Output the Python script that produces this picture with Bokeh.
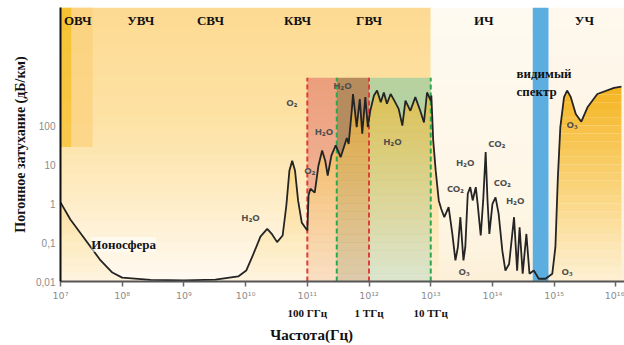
import numpy as np
from bokeh.plotting import figure
from bokeh.models import (Range1d, FixedTicker, LogAxis, CustomJSTickFormatter,
                          Label, ColumnDataSource)
from bokeh.core.properties import value
from bokeh.embed import file_html
from bokeh.resources import INLINE

# ---------------- data (log10 of Hz and of dB/km) -------------
log10_freq_hz = [
    7.00, 7.16, 7.37, 7.65, 7.84, 8.00, 8.46, 9.00, 9.51, 9.88,
    10.01, 10.13, 10.24, 10.35, 10.42, 10.51, 10.60, 10.66, 10.71, 10.755,
    10.80, 10.85, 10.91, 11.00, 11.02, 11.05, 11.12, 11.18, 11.24, 11.29,
    11.33, 11.39, 11.46, 11.54, 11.64, 11.67, 11.72, 11.74, 11.80, 11.85,
    11.89, 11.94, 11.98, 12.02, 12.08, 12.13, 12.19, 12.24, 12.29, 12.35,
    12.41, 12.48, 12.54, 12.59, 12.67, 12.75, 12.83, 12.89, 12.94, 13.00,
    13.01, 13.04, 13.08, 13.13, 13.17, 13.22, 13.29, 13.35, 13.40, 13.44,
    13.48, 13.53, 13.56, 13.60, 13.64, 13.68, 13.73, 13.76, 13.81, 13.85,
    13.89, 13.92, 13.95, 14.00, 14.05, 14.10, 14.16, 14.21, 14.27, 14.35,
    14.40, 14.44, 14.49, 14.55, 14.60, 14.67, 14.75, 14.86, 14.97, 15.02,
    15.06, 15.10, 15.16, 15.21, 15.27, 15.35, 15.44, 15.54, 15.70, 15.97,
    16.09,
]
log10_atten_db_km = [
    0.03, -0.41, -0.86, -1.46, -1.77, -1.90, -1.96, -1.97, -1.95, -1.87,
    -1.72, -1.28, -0.85, -0.65, -0.77, -0.99, -0.82, -0.05, 0.85, 1.10,
    0.85, 0.08, -0.49, -0.69, 0.21, 0.38, 0.28, 0.97, 1.36, 1.10,
    0.72, 1.23, 1.49, 1.19, 1.68, 1.53, 2.38, 2.81, 1.96, 2.68,
    1.79, 2.73, 1.96, 2.38, 2.77, 2.90, 2.60, 2.85, 2.56, 2.81,
    2.64, 2.43, 2.00, 2.64, 2.38, 2.73, 2.38, 2.08, 2.85, 2.64,
    2.77, 1.62, 0.85, 0.08, -0.14, -0.35, -0.09, -0.78, -1.46, -1.12,
    -0.35, -1.46, -1.12, 0.25, 0.42, 0.08, 0.42, -0.01, -0.82, 0.08,
    1.32, 0.08, -0.78, -0.01, 0.16, -0.26, -1.21, -1.72, -1.55, -0.35,
    -1.72, -0.61, -1.80, -0.78, -1.80, -1.72, -1.93, -1.93, -1.80, -1.12,
    0.67, 1.96, 2.73, 2.90, 2.73, 2.30, 2.10, 2.47, 2.81, 2.97,
    3.00,
]

band_names = ["ОВЧ", "УВЧ", "СВЧ", "КВЧ", "ГВЧ", "ИЧ", "УЧ"]
band_name_log10_freq = [7.28, 8.30, 9.43, 10.84, 12.0, 13.86, 15.49]

window_edges_hz = [1e11, 3e11, 1e12, 1e13]
window_edge_colors = ["#e23a3a", "#2aa84e", "#e23a3a", "#2aa84e"]
window_top_db_km = 1700
visible_hz = [4.5e14, 8.1e14]

x_ticks_hz = [1e7, 1e8, 1e9, 1e10, 1e11, 1e12, 1e13, 1e14, 1e15, 1e16]
y_ticks_db_km = [0.01, 0.1, 1, 10, 100]
freq_marks_hz = [1e11, 1e12, 1e13]
freq_mark_labels = ["100 ГГц", "1 ТГц", "10 ТГц"]
x_title = "Частота(Гц)"
y_title = "Погонное затухание (дБ/км)"

molecule_labels = ["O₂", "H₂O", "O₂", "H₂O", "H₂O", "H₂O", "CO₂", "H₂O",
                   "CO₂", "CO₂", "H₂O", "O₃", "O₃", "O₃"]
molecule_log10_freq = [10.75, 10.08, 11.04, 11.27, 11.57, 12.38, 13.40, 13.56,
                       14.07, 14.16, 14.37, 13.54, 15.21, 15.29]
molecule_log10_atten = [2.60, -0.35, 0.85, 1.85, 3.03, 1.59, 0.38, 1.06,
                        1.53, 0.55, 0.09, -1.74, -1.74, 2.04]

# ---------------- helpers ---------------------------------------------------------
def rgb(h):
    return np.array([int(h[i:i + 2], 16) for i in (1, 3, 5)], dtype=float)

def color_at(v, stops):
    vs = [s[0] for s in stops]
    cs = [rgb(s[1]) for s in stops]
    if v <= vs[0]:
        c = cs[0]
    elif v >= vs[-1]:
        c = cs[-1]
    else:
        for i in range(len(vs) - 1):
            if vs[i] <= v <= vs[i + 1]:
                t = (v - vs[i]) / (vs[i + 1] - vs[i])
                c = cs[i] * (1 - t) + cs[i + 1] * t
                break
    return "#%02x%02x%02x" % tuple(int(round(x)) for x in c)

bg = dict(left=[], right=[], bottom=[], top=[], color=[])

def add_gradient(lx0, lx1, ly0, ly1, stops, n=28):
    edges = np.linspace(ly0, ly1, n + 1)
    for k in range(n):
        bg["left"].append(10 ** lx0)
        bg["right"].append(10 ** lx1)
        bg["bottom"].append(10 ** edges[k])
        bg["top"].append(10 ** min(edges[k + 1] + 0.03, ly1))
        bg["color"].append(color_at(0.5 * (edges[k] + edges[k + 1]), stops))

XL, XR = 7.0, 16.14
YB, YT = -2.0, 5.03
lw = [np.log10(v) for v in window_edges_hz]
ltop = np.log10(window_top_db_km)
lvis = [np.log10(v) for v in visible_hz]

# backgrounds
add_gradient(XL, lw[3], YB, YT, [(-2, "#fffaf2"), (0, "#feedc8"), (2, "#fde2a6"), (5, "#fdda92")])
add_gradient(XL, 7.18, 1.45, YT, [(1.45, "#f8c94c"), (5, "#f6c232")], n=6)
add_gradient(7.18, 7.52, 1.45, YT, [(1.45, "#fcd68a"), (5, "#fbd380")], n=6)
add_gradient(lw[3], lvis[0], YB, YT, [(-2, "#fdf0d8"), (0, "#fef6e6"), (5, "#fefaf1")])
add_gradient(lvis[1], XR, YB, YT, [(-2, "#fdf0da"), (5, "#fef8ee")])
# atmospheric windows
add_gradient(lw[0], lw[1], YB, ltop, [(-2, "#f4c4ac"), (3.23, "#eb9e7b")])
add_gradient(lw[1], lw[2], YB, ltop, [(-2, "#ab8f6c"), (3.23, "#b78b5c")])
add_gradient(lw[2], lw[3], YB, ltop, [(-2, "#a6d4c6"), (1, "#add1ae"), (3.23, "#b8d29e")])
# visible band
add_gradient(lvis[0], lvis[1], YB, YT, [(-2, "#5daee0"), (5, "#5daee0")], n=1)

# ---------------- figure --------------------------------------------------------------
p = figure(width=624, height=345, x_axis_type="log", y_axis_type="log",
           x_range=Range1d(10 ** XL, 10 ** XR), y_range=Range1d(10 ** YB, 10 ** YT),
           output_backend="svg", toolbar_location=None,
           min_border_left=60, min_border_right=0, min_border_top=7,
           min_border_bottom=64)
p.outline_line_color = None
p.grid.visible = False
p.background_fill_color = "white"
p.border_fill_color = "white"

p.quad(left="left", right="right", bottom="bottom", top="top", color="color",
       line_color=None, source=ColumnDataSource(bg))

# ---------------- gradient fill under the curve ------------------------------------
lf = np.array(log10_freq_hz)
la = np.array(log10_atten_db_km)
levels = np.round(np.arange(-2.0, 3.21, 0.2), 6)

def refine(xs, ys):
    rx, ry = [xs[0]], [ys[0]]
    for i in range(len(xs) - 1):
        x0, y0, x1, y1 = xs[i], ys[i], xs[i + 1], ys[i + 1]
        if y1 != y0:
            lo, hi = min(y0, y1), max(y0, y1)
            ts = sorted((L - y0) / (y1 - y0) for L in levels if lo < L < hi)
            for t in ts:
                rx.append(x0 + t * (x1 - x0))
                ry.append(y0 + t * (y1 - y0))
        rx.append(x1)
        ry.append(y1)
    return np.array(rx), np.array(ry)

fill_stops = [(-2, "#fdf0d4"), (0, "#fbd98a"), (3, "#f4b420")]
fill = dict(xs=[], ys=[], color=[], alpha=[])
for mask, alpha in [(lf <= 13.13, 0.62), (lf >= 14.97, 1.0)]:
    rx, ry = refine(lf[mask], la[mask])
    for k in range(len(levels) - 1):
        lo, hi = levels[k], levels[k + 1]
        yt = np.clip(ry, lo, hi)
        if np.all(yt <= lo):
            continue
        xs = np.concatenate([rx, rx[::-1]])
        ys = np.concatenate([yt, np.full(len(rx), lo)])
        fill["xs"].append(list(10 ** xs))
        fill["ys"].append(list(10 ** ys))
        fill["color"].append(color_at(0.5 * (lo + hi), fill_stops))
        fill["alpha"].append(alpha)
p.patches(xs="xs", ys="ys", fill_color="color", fill_alpha="alpha",
          line_color=None, source=ColumnDataSource(fill))

# window edges (dashed)
p.segment(x0=window_edges_hz, x1=window_edges_hz, y0=[0.01] * 4,
          y1=[window_top_db_km] * 4, line_color=window_edge_colors,
          line_width=2, line_dash="5 3")

# attenuation curve
p.line(10 ** lf, 10 ** la, line_color="#242424", line_width=1.8)

# ---------------- texts -----------------------------------------------------------
p.text(x=[10 ** v for v in band_name_log10_freq], y=[10 ** 4.69] * len(band_names),
       text=band_names, text_font=value("Liberation Serif"), text_font_style="bold",
       text_font_size="13px", text_color="#111111", text_align="center",
       text_baseline="middle")

p.text(x=[10 ** v for v in molecule_log10_freq], y=[10 ** v for v in molecule_log10_atten],
       text=molecule_labels, text_font=value("Noto Sans"), text_font_style="bold",
       text_font_size="9.5px", text_color="#4d4d4d", text_align="center",
       text_baseline="middle")

p.text(x=[10 ** 14.39, 10 ** 14.39], y=[10 ** 3.33, 10 ** 2.87],
       text=["видимый", "спектр"], text_font=value("Liberation Serif"),
       text_font_style="bold", text_font_size="13px", text_color="#111111",
       text_align="left", text_baseline="middle")

p.add_layout(Label(x=10 ** 7.5, y=10 ** -1.05, text="Ионосфера",
                   text_font="Liberation Serif", text_font_style="bold",
                   text_font_size="13px", text_color="#111111",
                   text_baseline="middle", background_fill_color="white",
                   background_fill_alpha=0.55))

# ---------------- axes ------------------------------------------------------------
sup_code = """
const sup = "⁰¹²³⁴⁵⁶⁷⁸⁹";
const e = Math.round(Math.log10(tick));
return "10" + String(e).split("").map(c => sup[parseInt(c)]).join("");
"""
xa = p.xaxis[0]
xa.ticker = FixedTicker(ticks=x_ticks_hz, minor_ticks=[])
xa.formatter = CustomJSTickFormatter(code=sup_code)
xa.major_label_text_font = "DejaVu Sans"
xa.major_label_text_font_size = "9.5px"
xa.major_label_text_color = "#8c8c8c"
xa.major_label_standoff = 3
xa.axis_line_color = "#555555"
xa.axis_line_width = 2
xa.major_tick_line_color = "#666666"
xa.major_tick_line_width = 1.5
xa.major_tick_out = 5
xa.major_tick_in = 0
xa.minor_tick_line_color = None

label_code = """
for (let i = 0; i < marks.length; i++) {
  if (Math.abs(Math.log10(tick) - Math.log10(marks[i])) < 1e-6) return labels[i];
}
return "";
"""
xa2 = LogAxis(ticker=FixedTicker(ticks=freq_marks_hz, minor_ticks=[]),
              formatter=CustomJSTickFormatter(
                  args=dict(marks=freq_marks_hz, labels=freq_mark_labels),
                  code=label_code))
xa2.axis_line_color = None
xa2.major_tick_line_color = None
xa2.minor_tick_line_color = None
xa2.major_tick_out = 0
xa2.major_tick_in = 0
xa2.major_label_text_font = "Liberation Serif"
xa2.major_label_text_font_style = "bold"
xa2.major_label_text_font_size = "11px"
xa2.major_label_text_color = "#111111"
xa2.major_label_standoff = 3
p.add_layout(xa2, "below")

# axis title, placed under the windows (as in the original) via a one-tick axis
title_pos_hz = [10 ** 11.07]
xa3 = LogAxis(ticker=FixedTicker(ticks=title_pos_hz, minor_ticks=[]),
              formatter=CustomJSTickFormatter(
                  args=dict(marks=title_pos_hz, labels=[x_title]), code=label_code))
xa3.axis_line_color = None
xa3.major_tick_line_color = None
xa3.minor_tick_line_color = None
xa3.major_tick_out = 0
xa3.major_tick_in = 0
xa3.major_label_text_font = "Liberation Serif"
xa3.major_label_text_font_style = "bold"
xa3.major_label_text_font_size = "15px"
xa3.major_label_text_color = "#111111"
xa3.major_label_standoff = 5
p.add_layout(xa3, "below")

ya = p.yaxis[0]
ya.ticker = FixedTicker(ticks=y_ticks_db_km, minor_ticks=[])
ya.formatter = CustomJSTickFormatter(code='return String(tick).replace(".", ",");')
ya.major_label_text_font = "Liberation Sans"
ya.major_label_text_font_size = "10px"
ya.major_label_text_color = "#8c8c8c"
ya.major_label_standoff = 5
ya.major_tick_out = 0
ya.major_tick_in = 0
ya.minor_tick_line_color = None
ya.axis_line_color = "#111111"
ya.axis_line_width = 2
ya.axis_label = y_title
ya.axis_label_text_font = "Liberation Serif"
ya.axis_label_text_font_style = "bold"
ya.axis_label_text_font_size = "14px"
ya.axis_label_text_color = "#111111"
ya.axis_label_standoff = 5

with open("out.html", "w", encoding="utf-8") as f:
    f.write(file_html(p, INLINE))
